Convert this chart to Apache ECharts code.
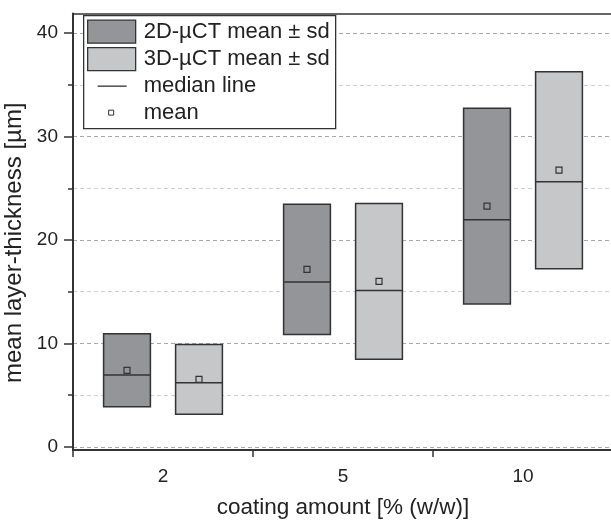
<!DOCTYPE html>
<html>
<head>
<meta charset="utf-8">
<script src="https://cdn.jsdelivr.net/npm/echarts@6/dist/echarts.min.js"></script>
<style>
  html, body { margin: 0; padding: 0; background: #fff; }
  #chart { width: 611px; height: 521px; }
</style>
</head>
<body>
<div id="chart"></div>
<script>
// coating amount groups
var categories = ['2', '5', '10'];

// 2D-µCT: mean, standard deviation, median
var mean2D = [7.40, 17.16, 23.28];
var sd2D = [3.53, 6.29, 9.47];
var median2D = [6.94, 15.94, 21.96];

// 3D-µCT: mean, standard deviation, median
var mean3D = [6.53, 16.00, 26.75];
var sd3D = [3.37, 7.53, 9.53];
var median3D = [6.19, 15.13, 25.64];

var yTicks = [0, 10, 20, 30, 40];

var FONT = '"Liberation Sans", Arial, Helvetica, sans-serif';
var DARK = '#333333';
var TEXT = '#222222';
var FILL_2D = '#939598';
var FILL_3D = '#c6c7c9';

function buildData(means, sds, medians) {
  return categories.map(function (c, i) {
    return [c, means[i], sds[i], medians[i]];
  });
}

// box = mean ± sd, with median line and mean marker
function boxRenderer(side, fill) {
  return function (params, api) {
    var idx = api.value(0);
    var band = api.size([1, 0])[0];
    var cx = api.coord([idx, 0])[0] + side * band * 0.2;
    var half = band * 0.13;
    var m = api.value(1), s = api.value(2);
    var top = api.coord([idx, m + s])[1];
    var bottom = api.coord([idx, m - s])[1];
    var med = api.coord([idx, api.value(3)])[1];
    var mean = api.coord([idx, m])[1];
    return {
      type: 'group',
      children: [
        {
          type: 'rect',
          shape: { x: cx - half, y: top, width: half * 2, height: bottom - top },
          style: { fill: fill, stroke: DARK, lineWidth: 1.5 }
        },
        {
          type: 'line',
          shape: { x1: cx - half, y1: med, x2: cx + half, y2: med },
          style: { stroke: DARK, lineWidth: 1.5 }
        },
        {
          type: 'rect',
          shape: { x: cx - 3, y: mean - 3, width: 6, height: 6 },
          style: { fill: 'transparent', stroke: DARK, lineWidth: 1.2 }
        }
      ]
    };
  };
}

var chart = echarts.init(document.getElementById('chart'));

// legend drawn by hand so the box matches the original layout
var legendFont = '22px ' + FONT;
var legendItems = [
  { type: 'rect', shape: { x: 0, y: 0, width: 252, height: 113 },
    style: { fill: '#fff', stroke: DARK, lineWidth: 1.3 } },
  { type: 'rect', shape: { x: 4, y: 4.5, width: 48, height: 23 },
    style: { fill: FILL_2D, stroke: DARK, lineWidth: 1.3 } },
  { type: 'rect', shape: { x: 4, y: 32, width: 48, height: 23 },
    style: { fill: FILL_3D, stroke: DARK, lineWidth: 1.3 } },
  { type: 'line', shape: { x1: 14, y1: 70.5, x2: 43, y2: 70.5 },
    style: { stroke: DARK, lineWidth: 1.3 } },
  { type: 'rect', shape: { x: 25, y: 94.5, width: 5, height: 5 },
    style: { fill: 'transparent', stroke: DARK, lineWidth: 1 } },
  { type: 'text', style: { text: '2D-µCT mean ± sd', x: 60, y: 16.5, verticalAlign: 'middle', font: legendFont, fill: TEXT } },
  { type: 'text', style: { text: '3D-µCT mean ± sd', x: 60, y: 43.5, verticalAlign: 'middle', font: legendFont, fill: TEXT } },
  { type: 'text', style: { text: 'median line', x: 60, y: 70.5, verticalAlign: 'middle', font: legendFont, fill: TEXT } },
  { type: 'text', style: { text: 'mean', x: 60, y: 97, verticalAlign: 'middle', font: legendFont, fill: TEXT } }
];
legendItems.forEach(function (el) { el.z = 100; });

var option = {
  animation: false,
  backgroundColor: '#fff',
  grid: {
    left: 73,
    right: -2,
    top: 13.5,
    bottom: 71,
    outerBoundsMode: 'none'
  },
  xAxis: [
    {
      type: 'category',
      data: categories,
      boundaryGap: true,
      position: 'bottom',
      name: 'coating amount [% (w/w)]',
      nameLocation: 'middle',
      nameGap: 46,
      nameTextStyle: { fontFamily: FONT, fontSize: 22.5, color: TEXT },
      axisLine: { onZero: false, lineStyle: { color: DARK, width: 2 } },
      axisTick: { show: true, alignWithLabel: false, length: 7, lineStyle: { color: DARK, width: 1.5 } },
      axisLabel: { margin: 17, fontFamily: FONT, fontSize: 19, color: TEXT },
      splitLine: { show: false }
    },
    {
      type: 'category',
      data: categories,
      position: 'top',
      axisLine: { onZero: false, lineStyle: { color: DARK, width: 1.5 } },
      axisTick: { show: false },
      axisLabel: { show: false },
      splitLine: { show: false }
    }
  ],
  yAxis: {
    type: 'value',
    min: -0.3,
    max: 41.9,
    minInterval: 10,
    maxInterval: 10,
    name: 'mean layer-thickness [µm]',
    nameLocation: 'middle',
    nameRotate: 90,
    nameGap: 40,
    nameTextStyle: { fontFamily: FONT, fontSize: 24, color: TEXT, padding: [0, 22, 0, 0] },
    axisLine: { show: true, lineStyle: { color: DARK, width: 2 } },
    axisTick: { show: true, customValues: yTicks, length: 9, lineStyle: { color: DARK, width: 1.5 } },
    minorTick: { show: true, splitNumber: 2, length: 5, lineStyle: { color: DARK, width: 1.5 } },
    axisLabel: {
      customValues: yTicks,
      margin: 15,
      fontFamily: FONT,
      fontSize: 19,
      color: TEXT
    },
    splitLine: { show: true, lineStyle: { color: '#a8a8a8', width: 1, type: [4, 3] } },
    minorSplitLine: { show: true, lineStyle: { color: '#cfcfcf', width: 1, type: [4, 3] } }
  },
  series: [
    {
      name: '2D-µCT mean ± sd',
      type: 'custom',
      xAxisIndex: 0,
      renderItem: boxRenderer(-1, FILL_2D),
      data: buildData(mean2D, sd2D, median2D),
      z: 5
    },
    {
      name: '3D-µCT mean ± sd',
      type: 'custom',
      xAxisIndex: 0,
      renderItem: boxRenderer(1, FILL_3D),
      data: buildData(mean3D, sd3D, median3D),
      z: 5
    }
  ],
  graphic: [
    {
      type: 'group',
      left: 83,
      top: 15,
      z: 100,
      children: legendItems
    }
  ]
};

chart.setOption(option);
</script>
</body>
</html>
